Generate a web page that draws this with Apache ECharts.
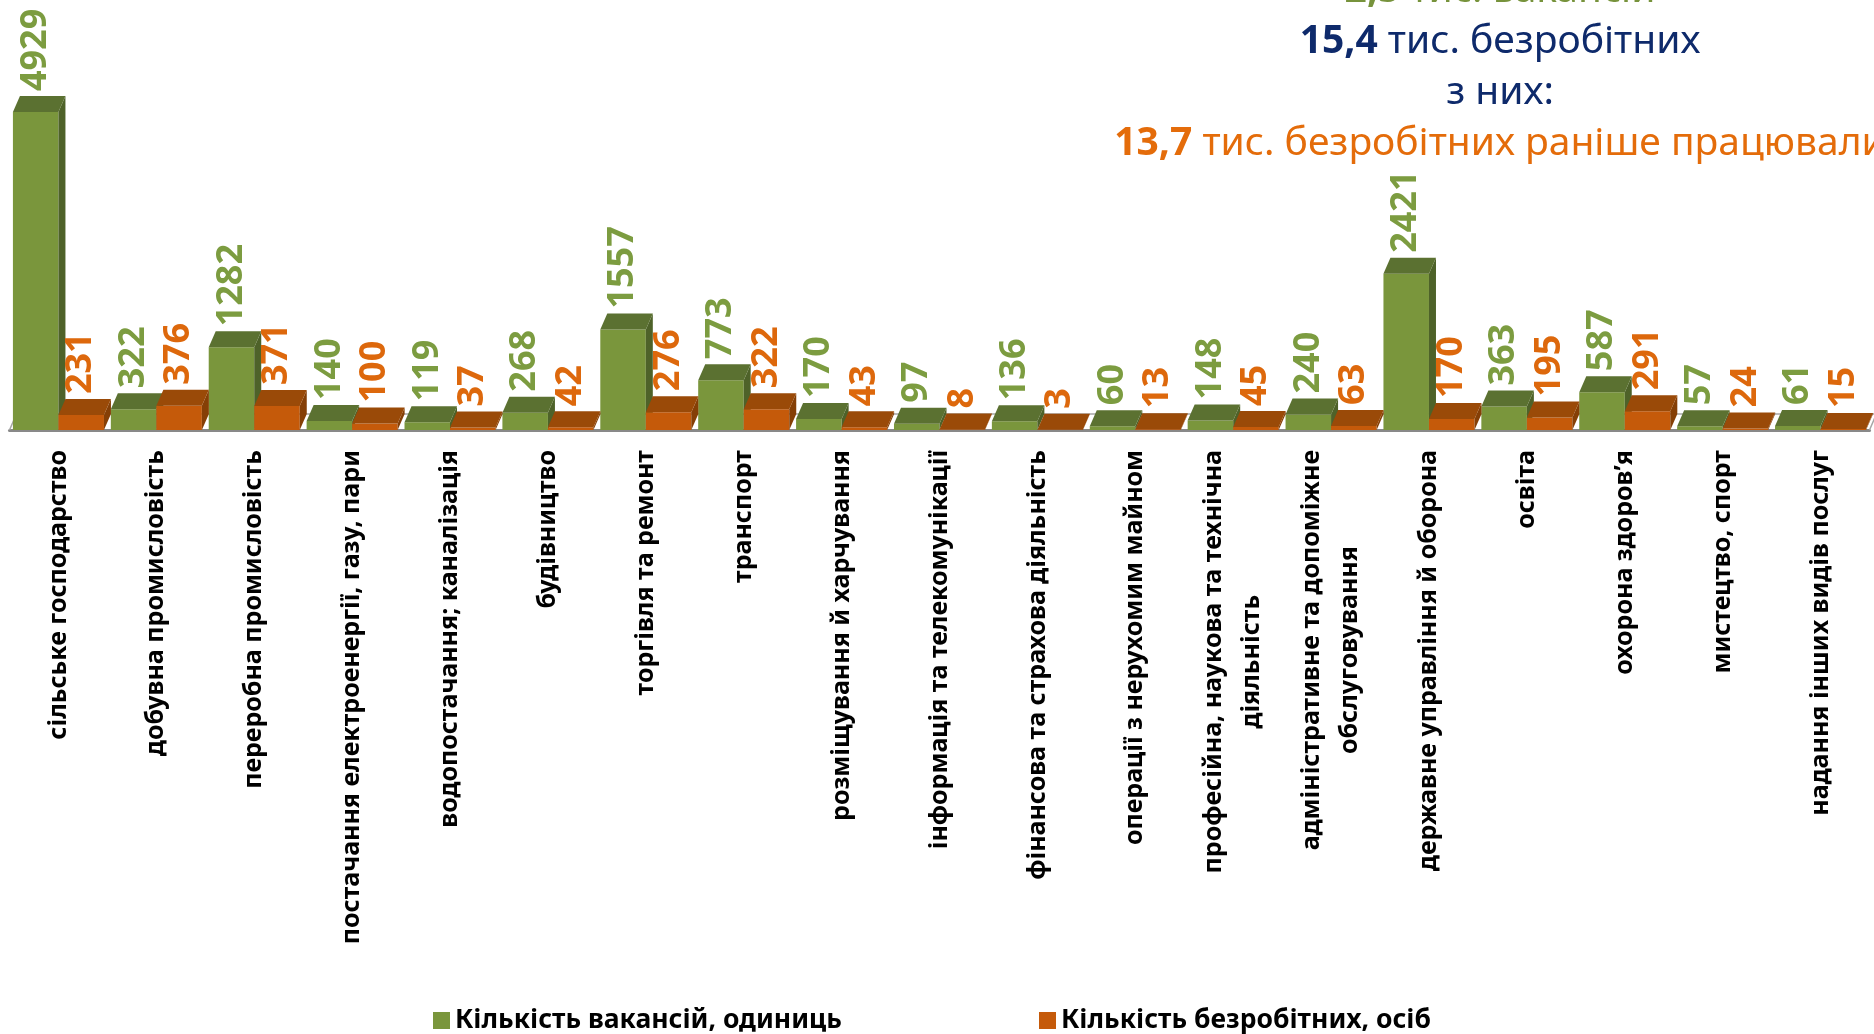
<!DOCTYPE html>
<html>
<head>
<meta charset="utf-8">
<title>Вакансії та безробітні за видами діяльності</title>
<style>
  html, body { margin: 0; padding: 0; background: #fff; }
  #main { width: 1874px; height: 1034px; }
</style>
<script src="https://cdn.jsdelivr.net/npm/echarts@6/dist/echarts.min.js"></script>
</head>
<body>
<div id="main"></div>
<script>
// види економічної діяльності
var categories = [
  'сільське господарство',
  'добувна промисловість',
  'переробна промисловість',
  'постачання електроенергії, газу, пари',
  'водопостачання; каналізація',
  'будівництво',
  'торгівля та ремонт',
  'транспорт',
  'розміщування й харчування',
  'інформація та телекомунікації',
  'фінансова та страхова діяльність',
  'операції з нерухомим майном',
  'професійна, наукова та технічна\nдіяльність',
  'адміністративне та допоміжне\nобслуговування',
  'державне управління й оборона',
  'освіта',
  'охорона здоров’я',
  'мистецтво, спорт',
  'надання інших видів послуг'
];
// кількість вакансій, одиниць
var vacancies = [4929, 322, 1282, 140, 119, 268, 1557, 773, 170, 97, 136, 60, 148, 240, 2421, 363, 587, 57, 61];
// кількість безробітних, осіб
var unemployed = [231, 376, 371, 100, 37, 42, 276, 322, 43, 8, 3, 13, 45, 63, 170, 195, 291, 24, 15];
var seriesNames = ['Кількість вакансій, одиниць', 'Кількість безробітних, осіб'];

var FONT = '"Noto Sans", sans-serif';
var DX = 7, DY = 16;      // глибина псевдо-3D
var BAR_RATIO = 0.465;    // ширина стовпця від ширини категорії

var palette = [
  { front: '#7A963C', top: '#5B7131', side: '#4E6229', label: '#7C9C40' },
  { front: '#C55A0A', top: '#9A4A08', side: '#853F06', label: '#DD680C' }
];

function toData(arr) {
  return arr.map(function (v, i) { return [i, v]; });
}

// малюємо стовпець з верхньою та боковою гранню
function bar3d(k) {
  return function (params, api) {
    var idx = api.value(0), val = api.value(1);
    var base = api.coord([idx, 0]);
    var top = api.coord([idx, val]);
    var w = api.size([1, 0])[0] * BAR_RATIO;
    var x0 = k === 0 ? base[0] - w : base[0];
    var y0 = top[1], yb = base[1];
    var c = palette[k];
    return {
      type: 'group',
      children: [
        { type: 'rect', shape: { x: x0, y: y0, width: w, height: yb - y0 }, style: { fill: c.front } },
        { type: 'polygon', shape: { points: [[x0 + w, y0], [x0 + w + DX, y0 - DY], [x0 + w + DX, yb - DY], [x0 + w, yb]] }, style: { fill: c.side } },
        { type: 'polygon', shape: { points: [[x0, y0], [x0 + w, y0], [x0 + w + DX, y0 - DY], [x0 + DX, y0 - DY]] }, style: { fill: c.top } },
        {
          type: 'text', x: x0 + w / 2, y: y0 - DY - 5, rotation: Math.PI / 2,
          style: { text: String(val), fill: c.label, font: 'bold 36px ' + FONT, align: 'left', verticalAlign: 'middle' }
        }
      ]
    };
  };
}

// "підлога" діаграми
function floor(params, api) {
  var first = api.coord([0, 0]);
  var last = api.coord([categories.length - 1, 0]);
  var band = api.size([1, 0])[0];
  var l = first[0] - band / 2, r = last[0] + band / 2, y = first[1];
  return {
    type: 'polyline',
    shape: { points: [[l, y], [l + DX, y - DY], [r + DX, y - DY], [r, y]] },
    style: { fill: 'none', stroke: '#A6A6A6', lineWidth: 1.5 },
    silent: true
  };
}

var titleFont = '39px ' + FONT;
function titleRich(color) {
  return { b: { fontWeight: 'bold', fontSize: 39, fontFamily: FONT, fill: color } };
}

var chart = echarts.init(document.getElementById('main'));
chart.setOption({
  animation: false,
  backgroundColor: '#fff',
  grid: { left: 9.5, right: 4.5, top: 107.5, bottom: 604, containLabel: false },
  xAxis: {
    type: 'category',
    data: categories,
    axisTick: { show: false },
    axisLine: { show: true, lineStyle: { color: '#898989', width: 3 } },
    axisLabel: {
      interval: 0,
      rotate: 90,
      margin: 20,
      color: '#000',
      fontSize: 25,
      fontWeight: 'bold',
      fontFamily: FONT,
      lineHeight: 38,
      formatter: function (v) {
        if (v.indexOf('\n') < 0) return v;
        return v.split('\n').map(function (s) { return '{c|' + s + '}'; }).join('\n');
      },
      rich: {
        c: { align: 'center', color: '#000', fontSize: 25, fontWeight: 'bold', fontFamily: FONT, lineHeight: 38 }
      }
    }
  },
  yAxis: { type: 'value', min: 0, max: 5000, show: false },
  legend: {
    data: seriesNames,
    left: 428,
    top: 1002,
    icon: 'rect',
    itemWidth: 17,
    itemHeight: 17,
    itemGap: 197,
    textStyle: { color: '#000', fontSize: 26.5, fontWeight: 'bold', fontFamily: FONT }
  },
  graphic: [
    { type: 'text', x: 1500, y: -9, style: { text: '{b|2,5} тис. вакансій', fill: '#77933C', font: titleFont, align: 'center', verticalAlign: 'middle', rich: titleRich('#77933C') } },
    { type: 'text', x: 1500, y: 42, style: { text: '{b|15,4} тис. безробітних', fill: '#0E2A6B', font: titleFont, align: 'center', verticalAlign: 'middle', rich: titleRich('#0E2A6B') } },
    { type: 'text', x: 1500, y: 93, style: { text: 'з них:', fill: '#0E2A6B', font: titleFont, align: 'center', verticalAlign: 'middle' } },
    { type: 'text', x: 1500, y: 144, style: { text: '{b|13,7} тис. безробітних раніше працювали', fill: '#E46C0A', font: titleFont, align: 'center', verticalAlign: 'middle', rich: titleRich('#E46C0A') } }
  ],
  series: [
    { type: 'custom', name: 'floor', renderItem: floor, data: [[0, 0]], encode: { x: 0, y: 1 }, z: 1, silent: true },
    { type: 'custom', name: seriesNames[0], renderItem: bar3d(0), data: toData(vacancies), encode: { x: 0, y: 1 }, itemStyle: { color: palette[0].front }, z: 2 },
    { type: 'custom', name: seriesNames[1], renderItem: bar3d(1), data: toData(unemployed), encode: { x: 0, y: 1 }, itemStyle: { color: palette[1].front }, z: 2 }
  ]
});
</script>
</body>
</html>
